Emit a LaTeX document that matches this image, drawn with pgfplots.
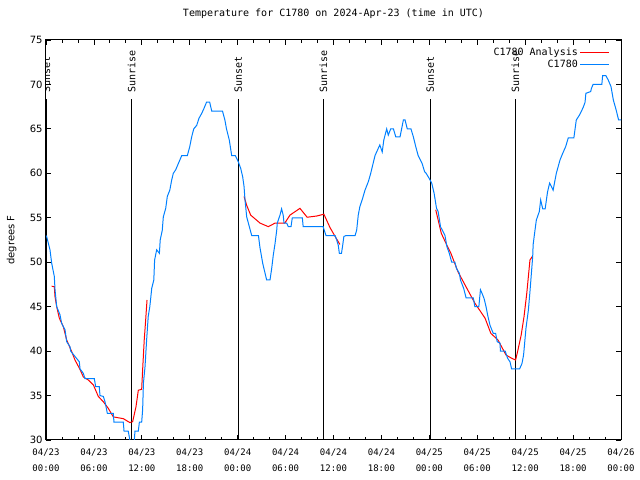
\documentclass[border=0pt]{standalone}
\usepackage{pgfplots}
\pgfplotsset{compat=1.18}
\usepackage{fontspec}
\setmainfont{DejaVu Sans}
\newfontfamily\monofont{DejaVu Sans Mono}
\newcommand\tf{\monofont\fontsize{10bp}{12bp}\selectfont}
\newcommand\xf{\monofont\fontsize{9bp}{16bp}\selectfont}
\newcommand\yf{\fontsize{10bp}{12bp}\selectfont}
\definecolor{cblue}{RGB}{0,128,255}
\definecolor{cred}{RGB}{255,0,0}
\begin{document}
\begin{tikzpicture}
\path (0,0) rectangle (640bp,480bp);
\begin{axis}[
  at={(46bp,40bp)}, anchor=south west,
  width=575bp, height=400bp, scale only axis,
  xmin=0, xmax=72, ymin=30, ymax=75,
  xtick={0,6,...,72},
  xticklabels={{04/23\\00:00},{04/23\\06:00},{04/23\\12:00},{04/23\\18:00},{04/24\\00:00},{04/24\\06:00},{04/24\\12:00},{04/24\\18:00},{04/25\\00:00},{04/25\\06:00},{04/25\\12:00},{04/25\\18:00},{04/26\\00:00}},
  xticklabel style={align=center, font=\xf, yshift=-5bp},
  minor x tick num=2,
  ytick={30,35,...,75},
  yticklabel style={font=\yf},
  /pgf/number format/assume math mode=true,
  tick align=inside,
  major tick length=5bp, minor tick length=3bp,
  axis line style={line width=1bp},
  every tick/.style={black, line width=0.8bp},
  title={Temperature for C1780 on 2024-Apr-23 (time in UTC)},
  title style={font=\tf, at={([yshift=20bp]axis description cs:0.5,1)}, anchor=center},
  ylabel={degrees F},
  ylabel style={font=\yf, at={([xshift=-34.5bp]axis description cs:0,0.5)}, anchor=center, rotate=0},
  legend style={at={([xshift=-8bp,yshift=-4bp]axis description cs:1,1)}, anchor=north east, draw=none, fill=none, font=\tf, row sep=-1bp},
  legend cell align=right,
  legend plot pos=right,
  legend image code/.code={\draw[#1, line width=1bp] (0bp,0bp) -- (29bp,0bp);},
]
% sunrise / sunset lines
\addplot[black, line width=1bp, forget plot] coordinates {(0.05,30) (0.05,68.36)};
\addplot[black, line width=1bp, forget plot] coordinates {(10.73,30) (10.73,68.36)};
\addplot[black, line width=1bp, forget plot] coordinates {(24.08,30) (24.08,68.36)};
\addplot[black, line width=1bp, forget plot] coordinates {(34.72,30) (34.72,68.36)};
\addplot[black, line width=1bp, forget plot] coordinates {(48.1,30) (48.1,68.36)};
\addplot[black, line width=1bp, forget plot] coordinates {(58.78,30) (58.78,68.36)};
\node[rotate=90, anchor=west, inner sep=0pt, font=\tf] at (axis cs:0.05,69.1) {Sunset};
\node[rotate=90, anchor=west, inner sep=0pt, font=\tf] at (axis cs:10.73,69.1) {Sunrise};
\node[rotate=90, anchor=west, inner sep=0pt, font=\tf] at (axis cs:24.08,69.1) {Sunset};
\node[rotate=90, anchor=west, inner sep=0pt, font=\tf] at (axis cs:34.72,69.1) {Sunrise};
\node[rotate=90, anchor=west, inner sep=0pt, font=\tf] at (axis cs:48.1,69.1) {Sunset};
\node[rotate=90, anchor=west, inner sep=0pt, font=\tf] at (axis cs:58.78,69.1) {Sunrise};
% analysis
\addplot[cred, line width=1bp] coordinates {(0.71,47.3) (1.04,47.25) (1.13,46.1) (1.34,45) (1.67,43.7) (2.17,42.75) (2.59,41.25) (3.22,39.94) (3.63,39) (4.26,37.94) (4.67,37.1) (5.3,36.75) (5.93,36.2) (6.55,34.9) (7.18,34.3) (7.8,33.56) (8.43,32.6) (9.68,32.4) (10.5,31.96) (10.85,32.06) (11.27,33.75) (11.56,35.6) (11.98,35.7) (12.1,37.9) (12.3,41.25) (12.48,43.5) (12.65,45.75)};
\addlegendentry{C1780 Analysis}
\addplot[cred, line width=1bp, forget plot] coordinates {(24.8,57.4) (25.13,56.4) (25.63,55.3) (26.8,54.4) (27.84,54) (28.68,54.4) (29.9,54.4) (30.55,55.3) (31.8,56.06) (32.7,55.06) (33.9,55.2) (34.8,55.4) (35.56,53.9) (36.2,52.9) (36.8,52.0)};
\addplot[cred, line width=1bp, forget plot] coordinates {(48.8,55.9) (49.5,53.25) (50.2,51.9) (50.7,51) (51.6,48.9) (52.7,47.06) (53.7,45.4) (54.98,43.7) (55.7,42) (56.6,41.25) (57.6,39.56) (58.3,39.2) (58.8,39) (59.05,39.94) (59.5,41.8) (59.86,43.9) (60.2,46.5) (60.6,50.25) (60.94,50.7)};
% observations
\addplot[cblue, line width=1bp] coordinates {(0.05,53) (0.5,51.4) (0.71,49.9) (1.04,48.4) (1.13,46.9) (1.34,45) (1.75,44.1) (1.97,43.1) (2.38,42.4) (2.59,41.06) (3.0,40.5) (3.09,40) (3.63,39.4) (4.17,38.8) (4.26,38) (4.67,37.5) (4.88,36.9) (6.05,36.9) (6.22,36) (6.67,36) (6.76,35) (7.18,34.9) (7.39,34.3) (7.68,33) (8.43,33) (8.51,32) (9.68,32) (9.77,31) (10.3,31) (10.5,30) (10.7,29) (10.9,29) (11.06,30) (11.14,31) (11.56,31) (11.69,32) (11.98,32) (12.1,33.4) (12.2,36.4) (12.4,38.25) (12.6,41.25) (12.8,43.9) (13.0,45) (13.24,47.06) (13.5,48) (13.6,50.25) (13.86,51.4) (14.2,51) (14.3,52.5) (14.56,53.6) (14.69,55.1) (14.99,56.06) (15.19,57.4) (15.5,58.1) (15.74,59.25) (15.94,60) (16.24,60.4) (16.57,61.1) (17.0,62) (17.7,62) (18.0,63) (18.24,64.1) (18.5,65) (18.87,65.4) (19.16,66.2) (19.5,66.75) (19.78,67.3) (20.1,68) (20.5,68) (20.75,67) (22.1,67) (22.4,66) (22.6,65) (22.95,63.75) (23.25,62) (23.7,62) (24.08,61.3) (24.38,60.56) (24.63,59.6) (24.8,58.5) (24.92,57) (25.13,55.1) (25.34,54.4) (25.76,53) (26.6,53) (26.8,51.6) (26.92,51) (27.13,49.9) (27.34,49.1) (27.63,48) (28.05,48) (28.26,49.3) (28.46,50.8) (28.68,52.1) (28.89,53.6) (28.96,54.4) (29.3,55.3) (29.5,56) (29.7,55.3) (29.8,54.4) (30.14,54.4) (30.34,54) (30.68,54) (30.84,55) (32.1,55) (32.2,54) (34.7,54) (35.06,53) (36.2,53) (36.4,52.5) (36.6,51.9) (36.73,51) (37.0,51) (37.15,51.9) (37.3,52.9) (37.57,53) (38.7,53) (38.9,53.6) (39.1,55.3) (39.3,56.25) (39.65,57.2) (39.94,58.1) (40.36,59.06) (40.66,60) (40.9,60.9) (41.2,62) (41.6,62.8) (41.8,63.2) (42.1,62.4) (42.3,63.75) (42.66,65) (42.86,64.3) (43.16,65) (43.5,65) (43.8,64.1) (44.33,64.1) (44.75,66) (44.96,66) (45.24,65) (45.7,65) (46.0,64.1) (46.3,63) (46.6,62) (47.1,61.1) (47.4,60.2) (47.6,60) (48.0,59.4) (48.3,58.9) (48.6,57.75) (48.9,56.06) (49.1,55.7) (49.4,54) (49.96,53) (50.2,51.75) (50.5,51) (50.8,50) (51.2,50) (51.4,49.3) (51.76,48.75) (51.9,48) (52.3,47.06) (52.6,46) (53.5,46) (53.7,45) (54.2,45) (54.4,46.9) (54.6,46.5) (54.86,45.9) (55.1,45) (55.3,44.06) (55.6,42.9) (56.0,42) (56.3,42) (56.5,41.06) (56.85,40.9) (56.9,40) (57.5,40) (57.8,39.2) (58.1,38.8) (58.3,38) (59.3,38) (59.6,38.6) (59.8,39.56) (60.1,42.56) (60.4,44.6) (60.6,46.7) (60.94,50.6) (61.0,52) (61.2,53.4) (61.4,54.75) (61.77,55.7) (61.94,57) (62.2,56) (62.5,56) (62.8,57.9) (63.06,58.9) (63.3,58.5) (63.5,58.1) (63.7,59.06) (63.9,60) (64.36,61.5) (64.7,62.25) (65.07,63) (65.4,64) (66.1,64) (66.4,66) (66.8,66.56) (67.1,67.1) (67.3,67.5) (67.5,68) (67.6,69) (68.2,69.2) (68.3,69.56) (68.5,70) (69.6,70) (69.7,71) (70.1,71) (70.4,70.5) (70.75,69.75) (71.04,68.25) (71.4,67.1) (71.7,66) (72,66)};
\addlegendentry{C1780}
\end{axis}
\end{tikzpicture}
\end{document}
